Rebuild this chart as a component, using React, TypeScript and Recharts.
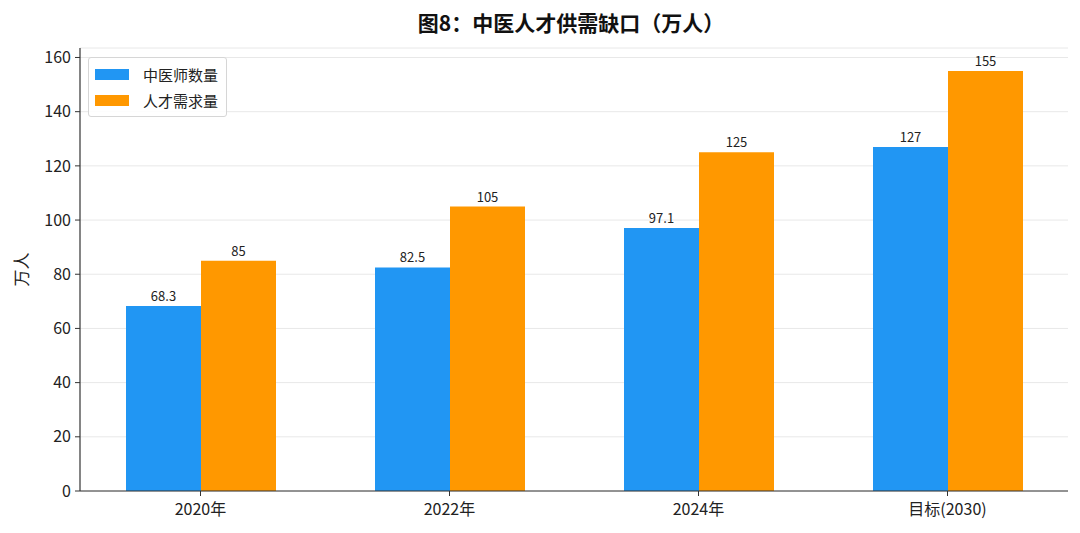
import { Bar, BarChart, CartesianGrid, LabelList, XAxis, YAxis } from 'recharts';

const categories = ['2020年', '2022年', '2024年', '目标(2030)'];
const doctors = [68.3, 82.5, 97.1, 127];
const demand = [85, 105, 125, 155];
const yTicks = [0, 20, 40, 60, 80, 100, 120, 140, 160];

const series = [
  { key: 'doctors', name: '中医师数量', color: '#2196F3' },
  { key: 'demand', name: '人才需求量', color: '#FF9800' },
];

const data = categories.map((name, i) => ({
  name,
  doctors: doctors[i],
  demand: demand[i],
}));

const FONT = '"Noto Sans CJK SC", "Noto Sans", sans-serif';

function LegendBox() {
  return (
    <div
      style={{
        position: 'absolute',
        left: 88,
        top: 57,
        border: '1px solid #d6d6d6',
        borderRadius: 3,
        background: 'rgba(255,255,255,0.9)',
        padding: '3px 8px 3px 6px',
        fontFamily: FONT,
        fontSize: 15,
        color: '#222',
      }}
    >
      {series.map((s) => (
        <div key={s.key} style={{ display: 'flex', alignItems: 'center', height: 26 }}>
          <span style={{ width: 34, height: 11, background: s.color, marginRight: 14 }} />
          <span>{s.name}</span>
        </div>
      ))}
    </div>
  );
}

export default function App() {
  return (
    <div style={{ position: 'absolute', left: 0, top: 0, width: 1080, height: 533, background: '#fff' }}>
      <div
        style={{
          position: 'absolute',
          left: 0,
          width: 1142,
          top: 7,
          textAlign: 'center',
          fontFamily: FONT,
          fontWeight: 700,
          fontSize: 21,
          color: '#111',
          lineHeight: '30px',
        }}
      >
        图8：中医人才供需缺口（万人）
      </div>
      <BarChart
        width={1080}
        height={533}
        data={data}
        margin={{ top: 48, right: 12, bottom: 0, left: 0 }}
        barGap={0}
        style={{ fontFamily: FONT }}
      >
        <CartesianGrid vertical={false} stroke="#e8e8e8" />
        <XAxis
          dataKey="name"
          height={42}
          padding={{ left: -4, right: -4 }}
          tick={{ fill: '#222', fontSize: 16 }}
          tickSize={5}
          tickMargin={8}
          axisLine={{ stroke: '#333', strokeWidth: 1.2 }}
          tickLine={{ stroke: '#333' }}
        />
        <YAxis
          width={80}
          domain={[0, 163.5]}
          ticks={yTicks}
          interval={0}
          tick={{ fill: '#222', fontSize: 16 }}
          tickSize={5}
          tickMargin={4}
          axisLine={{ stroke: '#333', strokeWidth: 1.2 }}
          tickLine={{ stroke: '#333' }}
          label={{
            value: '万人',
            angle: -90,
            position: 'insideLeft',
            offset: 22,
            style: { fill: '#222', fontSize: 17, textAnchor: 'middle' },
          }}
        />
        {series.map((s) => (
          <Bar key={s.key} dataKey={s.key} name={s.name} fill={s.color} barSize={75} isAnimationActive={false}>
            <LabelList dataKey={s.key} position="top" offset={5} fill="#222" fontSize={13} />
          </Bar>
        ))}
      </BarChart>
      <LegendBox />
    </div>
  );
}
